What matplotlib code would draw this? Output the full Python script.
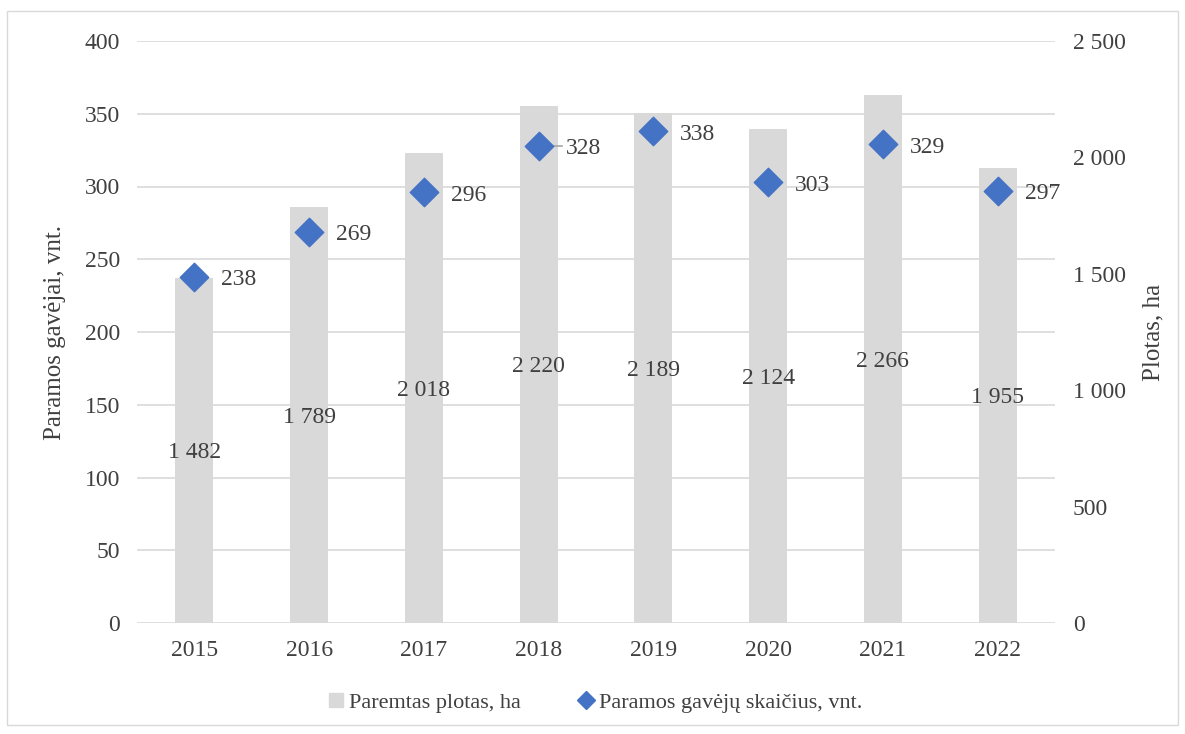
import matplotlib
matplotlib.use("Agg")
import matplotlib.pyplot as plt
from matplotlib.patches import Rectangle
from matplotlib.lines import Line2D

years = ["2015", "2016", "2017", "2018", "2019", "2020", "2021", "2022"]
area_ha = [1482, 1789, 2018, 2220, 2189, 2124, 2266, 1955]
recipients = [238, 269, 296, 328, 338, 303, 329, 297]

def fmt(v):
    return f"{v:,}".replace(",", " ")

plt.rcParams['font.family'] = ['Liberation Serif', 'DejaVu Serif']
TXT = '#404040'
GRID = '#d9d9d9'
BAR = '#d9d9d9'
BLUE = '#4472c4'
FS = 17

fig = plt.figure(figsize=(11.85, 7.34), dpi=100)
fig.patches.append(Rectangle((7/1185, 1-725/734), 1171/1185, 714/734, transform=fig.transFigure,
                             fill=False, edgecolor='#d9d9d9', linewidth=1))
ax_l = fig.add_axes([137/1185, 1-623/734, 918/1185, 582/734])
ax_r = ax_l.twinx()

x = list(range(len(years)))
ax_r.bar(x, area_ha, width=0.33, color=BAR, zorder=2)
ax_r.set_ylim(0, 2500)
ax_r.set_yticks([0, 500, 1000, 1500, 2000, 2500])
ax_r.set_yticklabels([fmt(v) for v in [0, 500, 1000, 1500, 2000, 2500]])
for xi, v in zip(x, area_ha):
    ax_r.text(xi, v / 2 - 10, fmt(v), ha='center', va='center', fontsize=FS, color=TXT, zorder=3)

ax_l.set_zorder(ax_r.get_zorder() + 1)
ax_l.patch.set_visible(False)
ax_l.scatter(x, recipients, marker='D', s=210, color=BLUE, zorder=4)
ax_l.set_ylim(0, 400)
ax_l.set_yticks(range(0, 401, 50))
for xi, v in zip(x, recipients):
    ax_l.text(xi + 0.235, v - 2, str(v), ha='left', va='center', fontsize=FS, color=TXT, zorder=5)
# leader line for 2018
ax_l.plot([3, 3.2], [recipients[3], recipients[3]], color='#a6a6a6', lw=1.2, zorder=3)

ax_l.set_xlim(-0.5, len(years) - 0.5)
ax_l.set_xticks(x)
ax_l.set_xticklabels(years)

for a in (ax_l, ax_r):
    for s in a.spines.values():
        s.set_visible(False)
    a.tick_params(length=0, labelsize=FS, colors=TXT)
ax_l.tick_params(axis='y', pad=12)
ax_r.tick_params(axis='y', pad=13)
ax_l.tick_params(axis='x', pad=12)

# gridlines drawn beneath the bars
for yv in range(0, 401, 50):
    ax_r.axhline(yv * 2500 / 400, color=GRID, lw=1.2, zorder=0)

ax_l.set_ylabel("Paramos gavėjai, vnt.", fontsize=FS + 1, color=TXT, labelpad=14)
ax_r.set_ylabel("Plotas, ha", fontsize=FS + 1, color=TXT, labelpad=12)

handles = [
    Line2D([0], [0], marker='s', linestyle='None', markersize=10, color=BAR),
    Line2D([0], [0], marker='D', linestyle='None', markersize=9, color=BLUE),
]
fig.legend(handles, ["Paremtas plotas, ha", "Paramos gavėjų skaičius, vnt."],
           loc='center', bbox_to_anchor=(0.5, 1 - 703/734), ncol=2, frameon=False,
           fontsize=FS - 1, labelcolor=TXT, handletextpad=0.0, columnspacing=2.3,
           handlelength=1.2)

fig.savefig("out.png", dpi=100)
